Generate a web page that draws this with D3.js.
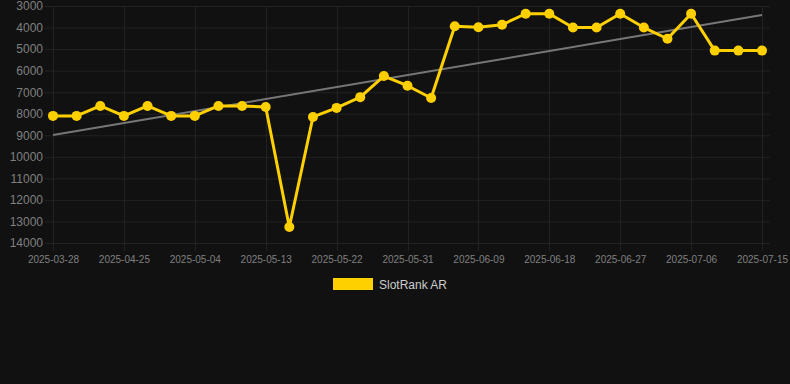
<!DOCTYPE html>
<html>
<head>
<meta charset="utf-8">
<script src="https://cdn.jsdelivr.net/npm/d3@7/dist/d3.min.js"></script>
<style>
  html, body { margin: 0; padding: 0; background: #111111; }
  svg { display: block; font-family: Arial, "Liberation Sans", sans-serif; }
  .grid line { stroke: #222222; stroke-width: 1; }
</style>
</head>
<body>
<svg id="chart" width="790" height="384"></svg>
<script>
const dates = [
  "2025-03-28", "2025-04-19", "2025-04-22", "2025-04-25", "2025-04-28", "2025-05-01",
  "2025-05-04", "2025-05-07", "2025-05-10", "2025-05-13", "2025-05-16", "2025-05-19",
  "2025-05-22", "2025-05-25", "2025-05-28", "2025-05-31", "2025-06-03", "2025-06-06",
  "2025-06-09", "2025-06-12", "2025-06-15", "2025-06-18", "2025-06-21", "2025-06-24",
  "2025-06-27", "2025-06-30", "2025-07-03", "2025-07-06", "2025-07-09", "2025-07-12",
  "2025-07-15"
];
const ranks = [
  8100, 8100, 7640, 8100, 7640, 8100, 8100, 7640, 7640, 7690, 13260, 8150,
  7730, 7230, 6250, 6700, 7270, 3940, 3990, 3870, 3360, 3360, 4000, 4000,
  3360, 4000, 4520, 3360, 5070, 5070, 5070
];
const trendStart = 8990;
const trendEnd   = 3420;
const yTicks = [3000, 4000, 5000, 6000, 7000, 8000, 9000, 10000, 11000, 12000, 13000, 14000];
const seriesName = "SlotRank AR";

const LEFT = 53, RIGHT = 762, TOP = 6, BOTTOM = 243;
const GOLD = "#ffd000";

const svg = d3.select("#chart");

const x = d3.scalePoint().domain(dates).range([LEFT, RIGHT]);
const y = d3.scaleLinear().domain([3000, 14000]).range([TOP, BOTTOM]);
const shownDates = dates.filter((d, i) => i % 3 === 0);

// horizontal grid
svg.append("g").attr("class", "grid")
  .selectAll("line")
  .data(yTicks)
  .join("line")
    .attr("x1", LEFT - 8).attr("x2", RIGHT + 8)
    .attr("y1", d => y(d) + 0.5).attr("y2", d => y(d) + 0.5)
    .attr("stroke", d => d === 14000 ? "#333" : "#222");

// vertical grid
svg.append("g").attr("class", "grid")
  .selectAll("line")
  .data(shownDates)
  .join("line")
    .attr("x1", d => Math.round(x(d)) + 0.5).attr("x2", d => Math.round(x(d)) + 0.5)
    .attr("y1", TOP).attr("y2", BOTTOM + 8);

// y axis labels
svg.append("g")
  .attr("transform", `translate(${LEFT - 10},0)`)
  .call(d3.axisLeft(y).tickValues(yTicks).tickSize(0).tickPadding(0).tickFormat(d3.format("d")))
  .call(ax => ax.select(".domain").remove())
  .selectAll("text")
    .attr("fill", "#808080")
    .attr("font-size", 12)
    .attr("font-family", "Arial, 'Liberation Sans', sans-serif");

// x axis labels
svg.append("g")
  .attr("transform", `translate(0,${BOTTOM + 13})`)
  .call(d3.axisBottom(x).tickValues(shownDates).tickSize(0).tickPadding(0))
  .call(ax => ax.select(".domain").remove())
  .selectAll("text")
    .attr("fill", "#808080")
    .attr("font-size", 10)
    .attr("font-family", "Arial, 'Liberation Sans', sans-serif");

// trend line
svg.append("line")
  .attr("x1", x(dates[0])).attr("y1", y(trendStart))
  .attr("x2", x(dates[dates.length - 1])).attr("y2", y(trendEnd))
  .attr("stroke", "#777777")
  .attr("stroke-width", 2);

// series line
svg.append("path")
  .datum(ranks)
  .attr("fill", "none")
  .attr("stroke", GOLD)
  .attr("stroke-width", 3)
  .attr("stroke-linejoin", "round")
  .attr("d", d3.line().x((d, i) => x(dates[i])).y(d => y(d)));

svg.append("g")
  .selectAll("circle")
  .data(ranks)
  .join("circle")
    .attr("cx", (d, i) => x(dates[i]))
    .attr("cy", d => y(d))
    .attr("r", 5)
    .attr("fill", GOLD);

// legend
const legend = svg.append("g").attr("transform", "translate(333,278)");
legend.append("rect")
  .attr("width", 40).attr("height", 12)
  .attr("fill", GOLD);
legend.append("text")
  .attr("x", 46).attr("y", 10.5)
  .attr("fill", "#cccccc")
  .attr("font-size", 12)
  .text(seriesName);
</script>
</body>
</html>
